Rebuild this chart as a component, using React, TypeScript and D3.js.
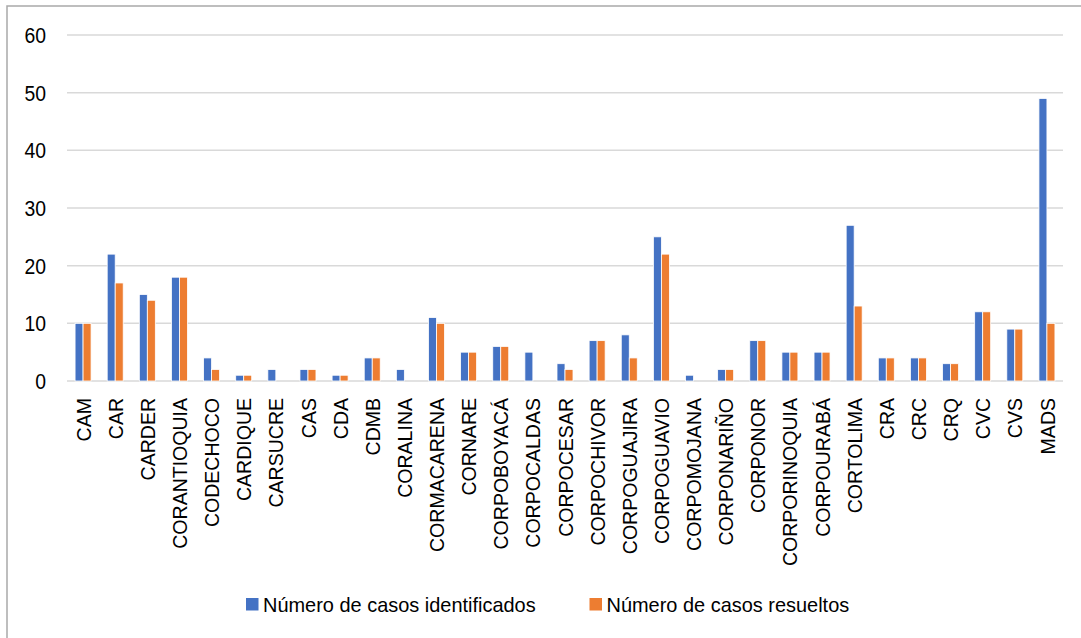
import React from "react";
import * as d3 from "d3";

const categories = [
  "CAM", "CAR", "CARDER", "CORANTIOQUIA", "CODECHOCO", "CARDIQUE", "CARSUCRE", "CAS", "CDA", "CDMB",
  "CORALINA", "CORMACARENA", "CORNARE", "CORPOBOYACÁ", "CORPOCALDAS", "CORPOCESAR", "CORPOCHIVOR",
  "CORPOGUAJIRA", "CORPOGUAVIO", "CORPOMOJANA", "CORPONARIÑO", "CORPONOR", "CORPORINOQUIA",
  "CORPOURABÁ", "CORTOLIMA", "CRA", "CRC", "CRQ", "CVC", "CVS", "MADS",
];
const identificados = [10, 22, 15, 18, 4, 1, 2, 2, 1, 4, 2, 11, 5, 6, 5, 3, 7, 8, 25, 1, 2, 7, 5, 5, 27, 4, 4, 3, 12, 9, 49];
const resueltos = [10, 17, 14, 18, 2, 1, 0, 2, 1, 4, 0, 10, 5, 6, 0, 2, 7, 4, 22, 0, 2, 7, 5, 5, 13, 4, 4, 3, 12, 9, 10];
const seriesNames = ["Número de casos identificados", "Número de casos resueltos"];
const yTicks = [0, 10, 20, 30, 40, 50, 60];

const W = 1081;
const H = 638;
const left = 67;
const right = 1063;
const top = 35;
const bottom = 381;
const colors = ["#4472C4", "#ED7D31"];
const FONT = "'Liberation Sans', Arial, sans-serif";

export default function App() {
  const x = d3.scaleBand<string>().domain(categories).range([left, right]).paddingInner(0).paddingOuter(0);
  const y = d3.scaleLinear().domain([0, 60]).range([bottom, top]);
  const inner = d3.scaleBand<number>().domain([0, 1]).range([0, 16]);
  const series = [identificados, resueltos];
  const bw = x.bandwidth();

  return (
    <svg width={W} height={H} style={{ position: "absolute", left: 0, top: 0 }} fontFamily={FONT}>
      <rect x={0} y={0} width={W} height={H} fill="#fff" />
      <rect x={7} y={6} width={W + 20} height={H + 20} fill="none" stroke="#A9A9A9" strokeWidth={1.5} />
      {yTicks.map((t) => (
        <g key={t}>
          <line x1={left} x2={right} y1={y(t)} y2={y(t)} stroke="#D9D9D9" strokeWidth={1.5} />
          <text
            transform={`translate(46,${y(t)}) scale(0.88,1)`}
            dy="0.36em"
            textAnchor="end"
            fontSize={22}
            fill="#000"
          >
            {t}
          </text>
        </g>
      ))}
      {categories.map((c, i) => {
        const x0 = (x(c) as number) + bw / 2 - 8;
        return (
          <g key={c}>
            {series.map((s, k) =>
              s[i] > 0 ? (
                <rect
                  key={k}
                  x={x0 + (inner(k) as number)}
                  y={y(s[i])}
                  width={inner.bandwidth()}
                  height={y(0) - y(s[i])}
                  fill={colors[k]}
                  stroke="#fff"
                  strokeWidth={0.8}
                />
              ) : null
            )}
            <text
              transform={`translate(${(x(c) as number) + bw / 2},398) rotate(-90) scale(0.93,1)`}
              textAnchor="end"
              dy="0.36em"
              fontSize={21}
              fill="#000"
            >
              {c}
            </text>
          </g>
        );
      })}
      {seriesNames.map((n, k) => {
        const lx = k === 0 ? 246 : 589.5;
        return (
          <g key={n}>
            <rect x={lx} y={598} width={12.5} height={12.5} fill={colors[k]} />
            <text
              transform={`translate(${lx + 17},611.5) scale(0.95,1)`}
              fontSize={21}
              fill="#000"
            >
              {n}
            </text>
          </g>
        );
      })}
    </svg>
  );
}
